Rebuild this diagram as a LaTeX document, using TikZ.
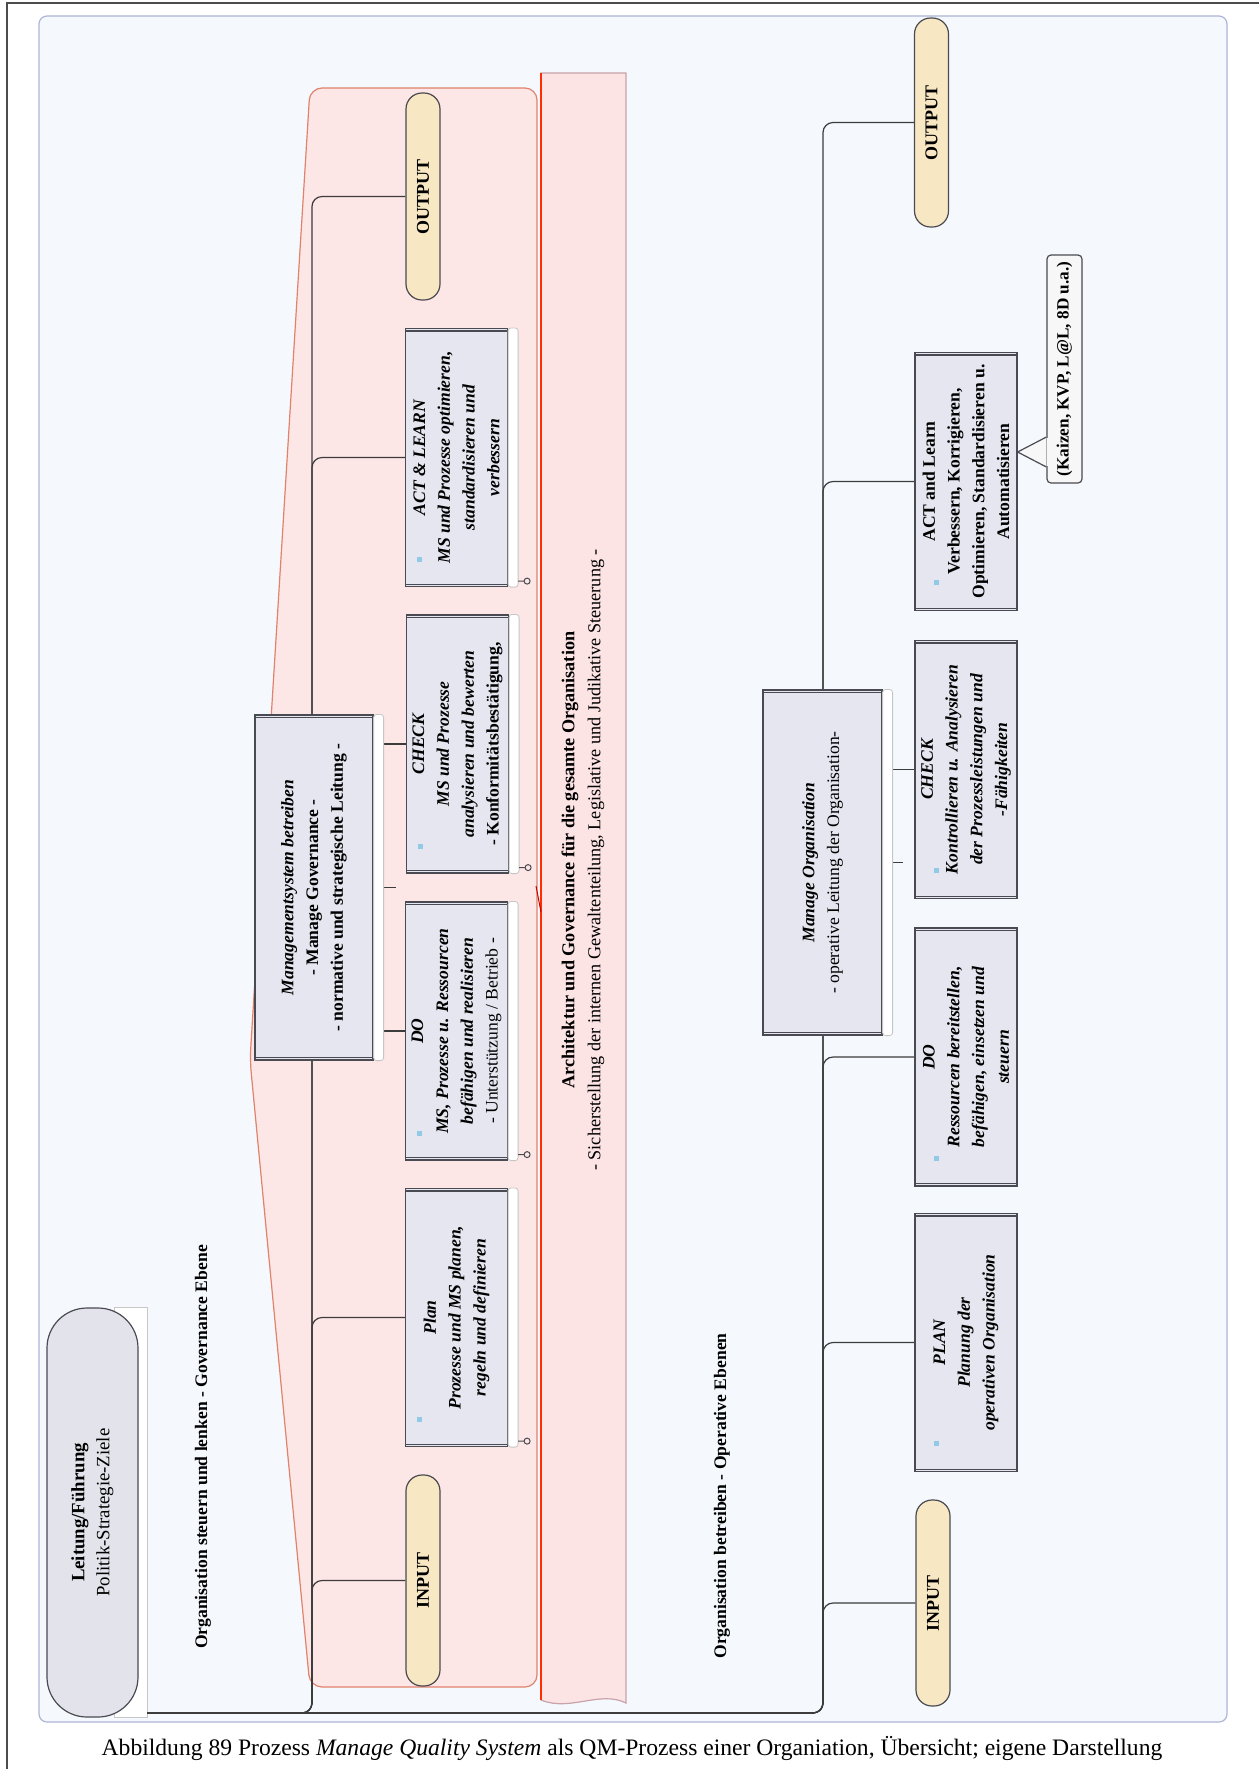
\documentclass[tikz,border=0pt]{standalone}
\usepackage{fontspec}
\setmainfont{Liberation Serif}
\usetikzlibrary{positioning,calc}

\definecolor{panelfill}{HTML}{F5F9FD}
\definecolor{paneldraw}{HTML}{AEB5D8}
\definecolor{pinkfill}{HTML}{FDE6E6}
\definecolor{pinkdraw}{HTML}{E0826C}
\definecolor{bandfill}{HTML}{FCE3E4}
\definecolor{banddraw}{HTML}{C9A3AA}
\definecolor{boxfill}{HTML}{E5E6EF}
\definecolor{boxdraw}{HTML}{4A4A52}
\definecolor{pillfill}{HTML}{F8E7C3}
\definecolor{iconblue}{HTML}{92C9E6}
\definecolor{linegray}{HTML}{3C3C3C}
\definecolor{rootfill}{HTML}{E3E3EC}

\pgfdeclarelayer{back}
\pgfdeclarelayer{lines}
\pgfsetlayers{back,lines,main}

\newcommand{\boxfont}{\fontsize{8.8}{12.4}\selectfont}

\begin{document}
\begin{tikzpicture}[
    x=0.5pt, y=-0.5pt,
    every node/.style={inner sep=0pt},
    task/.style={draw=boxdraw, fill=boxfill, rotate=90, align=center, line width=0.6pt,
                 minimum width=129pt, minimum height=51pt, font=\boxfont\bfseries\itshape},
    head/.style={task, minimum width=172.5pt, minimum height=59pt},
    io/.style={draw=boxdraw, fill=pillfill, rotate=90, rounded corners=8pt, line width=0.6pt,
               minimum height=17pt, font=\bfseries\fontsize{9}{11}\selectfont},
    conn/.style={draw=linegray, line width=0.6pt, rounded corners=5pt},
    strip/.style={draw=gray!45, fill=white, rounded corners=1.5pt, line width=0.4pt},
    lane/.style={rotate=90, font=\bfseries\fontsize{8.8}{11}\selectfont},
  ]
    \useasboundingbox (0,0) rectangle (1259,1769);

    % governance level
    \node[io, minimum width=103.5pt] (outg) at (423,196.5) {OUTPUT};
    \node[task] (actg) at (456.5,457.5) {ACT \& LEARN\\MS und Prozesse optimieren,\\standardisieren und\\verbessern};
    \node[task] (checkg) at (457.5,744) {CHECK\\MS und Prozesse\\analysieren und bewerten\\{\upshape - Konformitätsbestätigung,}};
    \node[task] (dog) at (456.5,1031) {DO\\MS, Prozesse u. Ressourcen\\befähigen und realisieren\\{\mdseries\upshape - Unterstützung / Betrieb -}};
    \node[task] (plang) at (456.5,1317.5) {Plan\\Prozesse und MS planen,\\regeln und definieren};
    \node[io, minimum width=105.5pt] (ing) at (423,1580.5) {INPUT};
    \node[head] (mgmtg) at (314,887.5) {Managementsystem betreiben\\{\upshape - Manage Governance -}\\{\upshape - normative und strategische Leitung -}};

    % operative level
    \node[io, minimum width=104.5pt] (outo) at (931.5,122.5) {OUTPUT};
    \node[task, font=\boxfont\bfseries] (acto) at (966,481.5) {ACT and Learn\\Verbessern, Korrigieren,\\Optimieren, Standardisieren u.\\Automatisieren};
    \node[task] (checko) at (966,769.5) {CHECK\\Kontrollieren u. Analysieren\\der Prozessleistungen und\\-Fähigkeiten};
    \node[task] (doo) at (966,1057) {DO\\Ressourcen bereitstellen,\\befähigen, einsetzen und\\steuern};
    \node[task] (plano) at (966,1342.5) {PLAN\\Planung der\\operativen Organisation};
    \node[io, minimum width=103pt] (ino) at (933,1603) {INPUT};
    \node[head, minimum height=59.5pt] (mgmto) at (822.5,862.5) {Manage Organisation\\{\mdseries\upshape - operative Leitung der Organisation-}};
    \node[draw=boxdraw, fill=gray!6, rotate=90, rounded corners=2pt, line width=0.6pt,
          minimum width=114pt, minimum height=17.5pt, font=\bfseries\fontsize{8.6}{10}\selectfont]
          (kaizen) at (1064.5,369) {(Kaizen, KVP, L@L, 8D u.a.)};

    % root and lanes
    \node[draw=boxdraw, fill=rootfill, rotate=90, rounded corners=20pt, line width=0.6pt, align=center,
          minimum width=204.5pt, minimum height=45.5pt, font=\fontsize{9.4}{12.5}\selectfont]
          (root) at (92.5,1512.5) {{\bfseries Leitung/Führung}\\Politik-Strategie-Ziele};
    \node[lane] (govlane) at (203,1447) {Organisation steuern und lenken - Governance Ebene};
    \node[lane] (oplane) at (722,1496) {Organisation betreiben - Operative Ebenen};
    \node[rotate=90, align=center, font=\fontsize{9.1}{13}\selectfont] (arch) at (583,860)
          {{\bfseries Architektur und Governance für die gesamte Organisation}\\- Sicherstellung der internen Gewaltenteilung, Legislative und Judikative Steuerung -};
    \node[font=\fontsize{11.8}{13}\selectfont] (caption) at (632,1748)
          {Abbildung 89 Prozess \textit{Manage Quality System} als QM-Prozess einer Organiation, Übersicht; eigene Darstellung};

    \coordinate (rootout) at (147,1713);
    \coordinate (govbase) at (312,1713);
    \coordinate (opbase) at (823,1713);

    \begin{pgfonlayer}{back}
      \fill[white] (0,0) rectangle (1259,1769);
      \draw[line width=1pt, black!70] (7,1769) -- (7,3) -- (1259,3);
      \draw[draw=paneldraw, fill=panelfill, rounded corners=4pt, line width=0.6pt] (39,16) rectangle (1227,1722);
      \draw[draw=pinkdraw, fill=pinkfill, rounded corners=6pt, line width=0.6pt]
           (310,88) -- (537,88) -- (537,1687) -- (310,1687) -- (250,1060) -- cycle;
      \draw[draw=banddraw, fill=bandfill, line width=0.6pt]
           (541,73) -- (626,73) -- (626,1703) .. controls (600,1690) and (570,1712) .. (541,1700) -- cycle;
      \draw[red!65!orange, line width=0.6pt] (541,73) -- (541,1700);
      \draw[red!80!black, line width=0.5pt] (536,886) -- (541,912);
    \end{pgfonlayer}

    \begin{pgfonlayer}{lines}
      \draw[strip, rounded corners=0pt] ([xshift=-12pt]root.south east) rectangle ([xshift=4.5pt]root.south west);
      \foreach \c in {outg,actg,plang,ing}
        \draw[conn] (rootout) -- (govbase) |- (\c.north);
      \foreach \c in {outo,acto,doo,plano,ino}
        \draw[conn] (rootout) -- (opbase) |- (\c.north);
      \draw[conn] (mgmtg.south |- checkg.north) -- (checkg.north);
      \draw[conn] (mgmtg.south |- dog.north) -- (dog.north);
      \draw[conn] (mgmtg.south) -- ++(11pt,0);
      \draw[conn] (mgmto.south |- checko.north) -- (checko.north);
      \draw[conn] (mgmto.south) -- ++(10pt,0);
    \end{pgfonlayer}

    % box details
    \foreach \b in {plang,dog,checkg,actg,plano,doo,checko,acto,mgmtg,mgmto}
      \draw[boxdraw, line width=0.6pt] ([yshift=-1.5pt]\b.south east) -- ([yshift=-1.5pt]\b.north east)
            ([yshift=1.5pt]\b.south west) -- ([yshift=1.5pt]\b.north west);
    \foreach \b in {plang,dog,checkg,actg,mgmtg,mgmto}
      \draw[strip] (\b.south west) rectangle ([xshift=5pt]\b.south east);
    \foreach \b in {plang,dog,checkg,actg}{
      \draw[boxdraw, line width=0.5pt] ([shift={(5pt,3pt)}]\b.south west) -- ++(3pt,0) ++(1.5pt,0) circle[radius=1.5pt];
      \fill[iconblue] ([shift={(6pt,12.5pt)}]\b.north west) rectangle ++(2.5pt,2.5pt);
    }
    \foreach \b in {plano,doo,checko,acto}
      \fill[iconblue] ([shift={(10pt,13pt)}]\b.north west) rectangle ++(2.5pt,2.5pt);

    % callout pointer
    \filldraw[draw=boxdraw, fill=gray!6, line width=0.6pt]
         ([yshift=-34pt]kaizen.north) -- ([yshift=14.75pt]acto.south) -- ([yshift=-49pt]kaizen.north);
    \fill[gray!6] ([shift={(0.35pt,-34.6pt)}]kaizen.north) rectangle ([shift={(1.2pt,-48.4pt)}]kaizen.north);
  \end{tikzpicture}
\end{document}
